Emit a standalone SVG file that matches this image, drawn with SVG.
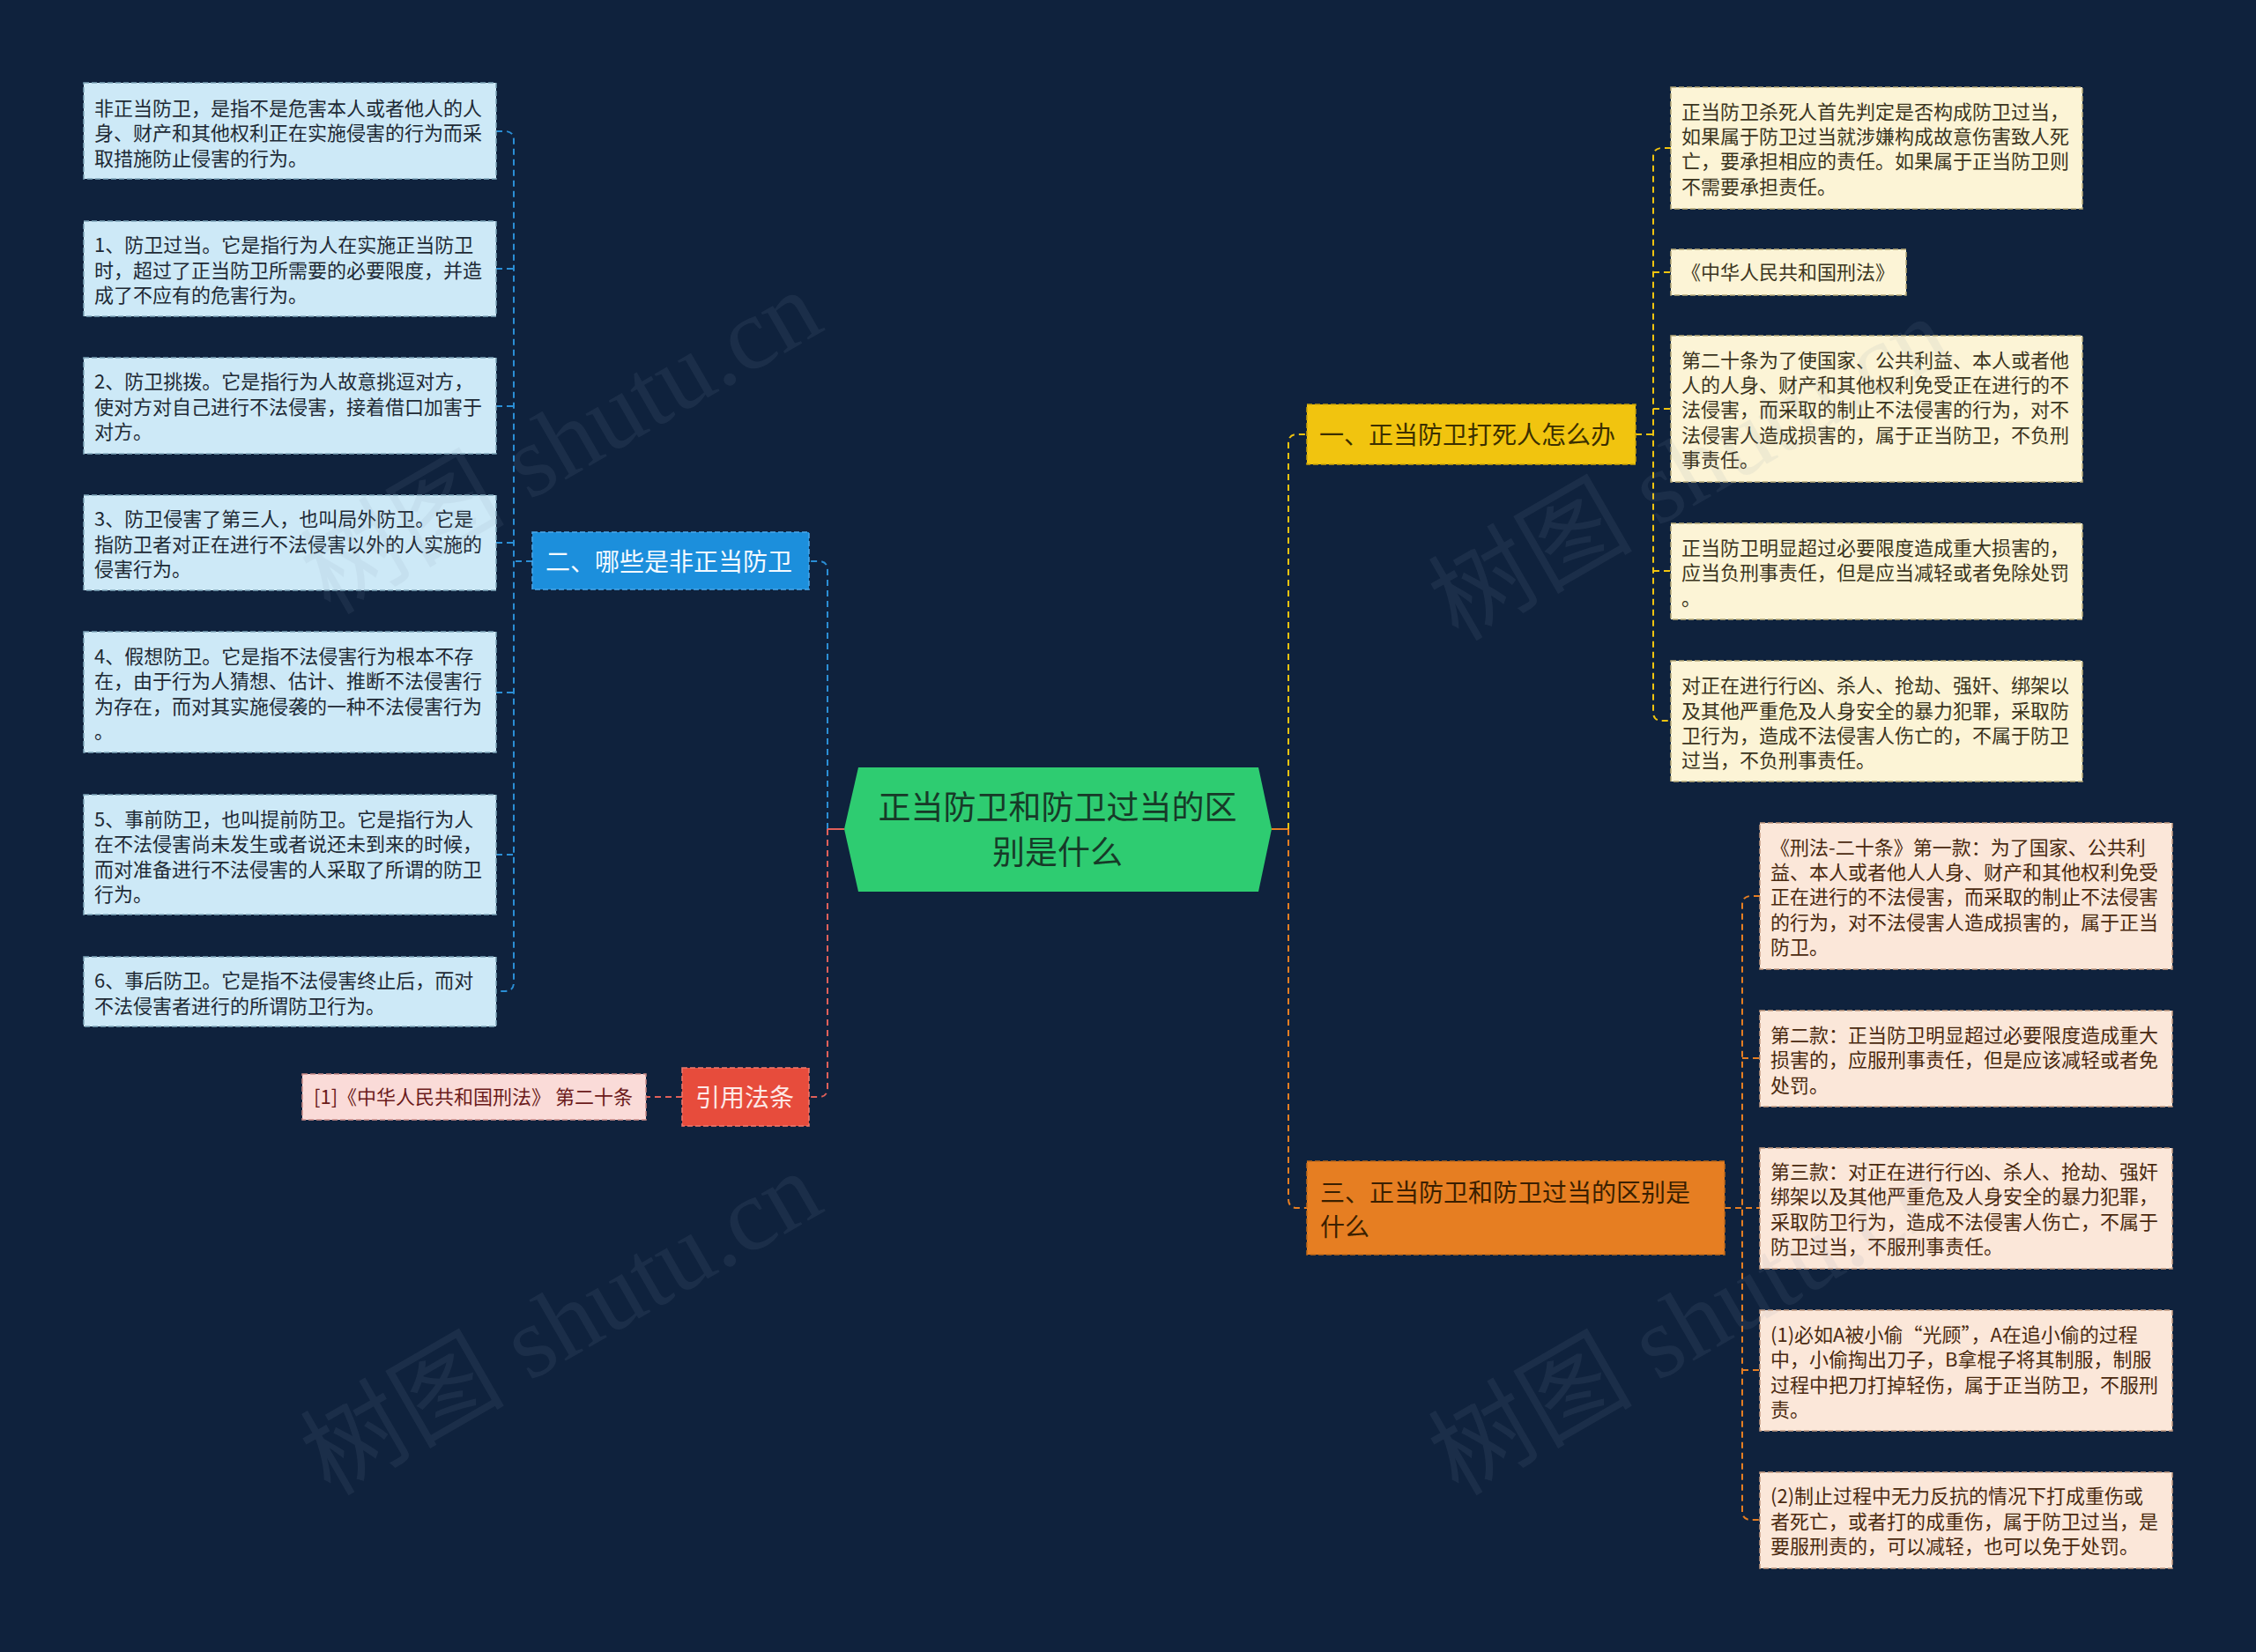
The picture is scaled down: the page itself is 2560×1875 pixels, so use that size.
<svg xmlns="http://www.w3.org/2000/svg" width="2560" height="1875" viewBox="0 0 2560 1875">
<style>
text{font-family:"Noto Sans CJK SC","Liberation Sans",sans-serif;dominant-baseline:central}
.t22{font-size:22px;transform:translate(0px,-2px)}
.lb{fill:#cde9f7;stroke:#7fa6bb;stroke-width:1.5;stroke-dasharray:6 3}
.lt{fill:#1e2a35}
.yb{fill:#fcf4d6;stroke:#b8aa78;stroke-width:1.5;stroke-dasharray:6 3}
.yt{fill:#3b3520}
.ob{fill:#fbe7d9;stroke:#c49a80;stroke-width:1.5;stroke-dasharray:6 3}
.ot{fill:#4a2a10}
.c{fill:none;stroke-width:2;stroke-dasharray:7 5}
.cb{stroke:#2b8fd6}.cr{stroke:#e0605a}.cy{stroke:#f1c40f}.co{stroke:#e67e22}
.wm{font-family:"Liberation Serif","Noto Sans CJK SC",serif;font-size:116px;fill:#8a9bb0;opacity:0.10}
</style>
<rect x="0" y="0" width="2560" height="1875" fill="#0f223d"/>

<g id="connectors">
<path class="c cb" d="M939,941 V647 Q939,637 929,637 H918"/>
<path class="c cr" d="M939,941 V1235 Q939,1245 929,1245 H918"/>
<path d="M958,941 H939" stroke="#e0605a" stroke-width="2" fill="none"/>
<path class="c cr" d="M774,1245 H733"/>
<path class="c cb" d="M604,637 H583"/>
<path class="c cb" d="M563,149 H573 Q583,149 583,159 V1115 Q583,1125 573,1125 H563"/>
<path class="c cb" d="M563,305 H583 M563,461 H583 M563,616 H583 M563,786 H583 M563,970 H583"/>
<path d="M1443,941 H1462" stroke="#e67e22" stroke-width="2" fill="none"/>
<path class="c cy" d="M1462,941 V503 Q1462,493 1472,493 H1483"/>
<path class="c co" d="M1462,941 V1361 Q1462,1371 1472,1371 H1483"/>
<path class="c cy" d="M1856,493 H1876"/>
<path class="c cy" d="M1896,168 H1886 Q1876,168 1876,178 V808 Q1876,818 1886,818 H1896"/>
<path class="c cy" d="M1876,309 H1896 M1876,464 H1896 M1876,648 H1896"/>
<path class="c co" d="M1957,1371 H1997"/>
<path class="c co" d="M1997,1017 H1987 Q1977,1017 1977,1027 V1715 Q1977,1725 1987,1725 H1997"/>
<path class="c co" d="M1977,1201 H1997 M1977,1555 H1997"/>
</g>

<g id="center">
<polygon points="974,871 1428,871 1443,941 1428,1012 974,1012 958,941" fill="#2ecc71"/>
<text x="1200" y="914" font-size="37" text-anchor="middle" fill="#173a28">正当防卫和防卫过当的区</text>
<text x="1200" y="965" font-size="37" text-anchor="middle" fill="#173a28">别是什么</text>
</g>

<g id="branch-2">
<rect x="604" y="604" width="314" height="65" fill="#1c8fdc" stroke="#4aa8ea" stroke-width="1.5" stroke-dasharray="6 3"/>
<text x="619" y="636" font-size="28" fill="#f4faff">二、哪些是非正当防卫</text>
</g>

<g id="branch-ref">
<rect x="774" y="1212" width="144" height="66" fill="#e74c3c" stroke="#f07a6e" stroke-width="1.5" stroke-dasharray="6 3"/>
<text x="789" y="1244" font-size="28" fill="#fde8e6">引用法条</text>
</g>

<g id="ref-1">
<rect x="343" y="1219" width="390" height="52" fill="#fadbd8" stroke="#c98a86" stroke-width="1.5" stroke-dasharray="6 3"/>
<text x="356" y="1245" class="t22" fill="#6b1b1b">[1]《中华人民共和国刑法》 第二十条</text>
</g>

<g id="branch-1">
<rect x="1483" y="459" width="373" height="68" fill="#f1c40f" stroke="#c9a20a" stroke-width="1.5" stroke-dasharray="6 3"/>
<text x="1497" y="492" font-size="28" fill="#3b2f00">一、正当防卫打死人怎么办</text>
</g>

<g id="branch-3">
<rect x="1483" y="1318" width="474" height="106" fill="#e67e22" stroke="#c0691a" stroke-width="1.5" stroke-dasharray="6 3"/>
<text x="1498" y="1352" font-size="28" fill="#3a1f00">三、正当防卫和防卫过当的区别是</text>
<text x="1498" y="1391" font-size="28" fill="#3a1f00">什么</text>
</g>

<g id="left-1">
<rect class="lb" x="95" y="94" width="468" height="109"/>
<text class="t22 lt" x="107" y="123">非正当防卫，是指不是危害本人或者他人的人</text>
<text class="t22 lt" x="107" y="151">身、财产和其他权利正在实施侵害的行为而采</text>
<text class="t22 lt" x="107" y="180">取措施防止侵害的行为。</text>
</g>
<g id="left-2">
<rect class="lb" x="95" y="251" width="468" height="108"/>
<text class="t22 lt" x="107" y="278">1、防卫过当。它是指行为人在实施正当防卫</text>
<text class="t22 lt" x="107" y="307">时，超过了正当防卫所需要的必要限度，并造</text>
<text class="t22 lt" x="107" y="335">成了不应有的危害行为。</text>
</g>
<g id="left-3">
<rect class="lb" x="95" y="406" width="468" height="109"/>
<text class="t22 lt" x="107" y="433">2、防卫挑拨。它是指行为人故意挑逗对方，</text>
<text class="t22 lt" x="107" y="462">使对方对自己进行不法侵害，接着借口加害于</text>
<text class="t22 lt" x="107" y="490">对方。</text>
</g>
<g id="left-4">
<rect class="lb" x="95" y="562" width="468" height="108"/>
<text class="t22 lt" x="107" y="589">3、防卫侵害了第三人，也叫局外防卫。它是</text>
<text class="t22 lt" x="107" y="618">指防卫者对正在进行不法侵害以外的人实施的</text>
<text class="t22 lt" x="107" y="646">侵害行为。</text>
</g>
<g id="left-5">
<rect class="lb" x="95" y="717" width="468" height="137"/>
<text class="t22 lt" x="107" y="745">4、假想防卫。它是指不法侵害行为根本不存</text>
<text class="t22 lt" x="107" y="773">在，由于行为人猜想、估计、推断不法侵害行</text>
<text class="t22 lt" x="107" y="802">为存在，而对其实施侵袭的一种不法侵害行为</text>
<text class="t22 lt" x="107" y="830">。</text>
</g>
<g id="left-6">
<rect class="lb" x="95" y="902" width="468" height="136"/>
<text class="t22 lt" x="107" y="930">5、事前防卫，也叫提前防卫。它是指行为人</text>
<text class="t22 lt" x="107" y="958">在不法侵害尚未发生或者说还未到来的时候，</text>
<text class="t22 lt" x="107" y="987">而对准备进行不法侵害的人采取了所谓的防卫</text>
<text class="t22 lt" x="107" y="1015">行为。</text>
</g>
<g id="left-7">
<rect class="lb" x="95" y="1086" width="468" height="79"/>
<text class="t22 lt" x="107" y="1113">6、事后防卫。它是指不法侵害终止后，而对</text>
<text class="t22 lt" x="107" y="1142">不法侵害者进行的所谓防卫行为。</text>
</g>

<g id="right1-1">
<rect class="yb" x="1896" y="99" width="467" height="138"/>
<text class="t22 yt" x="1908" y="127">正当防卫杀死人首先判定是否构成防卫过当，</text>
<text class="t22 yt" x="1908" y="155">如果属于防卫过当就涉嫌构成故意伤害致人死</text>
<text class="t22 yt" x="1908" y="183">亡，要承担相应的责任。如果属于正当防卫则</text>
<text class="t22 yt" x="1908" y="212">不需要承担责任。</text>
</g>
<g id="right1-2">
<rect class="yb" x="1896" y="283" width="267" height="52"/>
<text class="t22 yt" x="1908" y="309">《中华人民共和国刑法》</text>
</g>
<g id="right1-3">
<rect class="yb" x="1896" y="381" width="467" height="166"/>
<text class="t22 yt" x="1908" y="409">第二十条为了使国家、公共利益、本人或者他</text>
<text class="t22 yt" x="1908" y="437">人的人身、财产和其他权利免受正在进行的不</text>
<text class="t22 yt" x="1908" y="465">法侵害，而采取的制止不法侵害的行为，对不</text>
<text class="t22 yt" x="1908" y="494">法侵害人造成损害的，属于正当防卫，不负刑</text>
<text class="t22 yt" x="1908" y="522">事责任。</text>
</g>
<g id="right1-4">
<rect class="yb" x="1896" y="594" width="467" height="109"/>
<text class="t22 yt" x="1908" y="622">正当防卫明显超过必要限度造成重大损害的，</text>
<text class="t22 yt" x="1908" y="650">应当负刑事责任，但是应当减轻或者免除处罚</text>
<text class="t22 yt" x="1908" y="679">。</text>
</g>
<g id="right1-5">
<rect class="yb" x="1896" y="750" width="467" height="137"/>
<text class="t22 yt" x="1908" y="778">对正在进行行凶、杀人、抢劫、强奸、绑架以</text>
<text class="t22 yt" x="1908" y="807">及其他严重危及人身安全的暴力犯罪，采取防</text>
<text class="t22 yt" x="1908" y="835">卫行为，造成不法侵害人伤亡的，不属于防卫</text>
<text class="t22 yt" x="1908" y="863">过当，不负刑事责任。</text>
</g>

<g id="right3-1">
<rect class="ob" x="1997" y="934" width="468" height="166"/>
<text class="t22 ot" x="2009" y="962">《刑法-二十条》第一款：为了国家、公共利</text>
<text class="t22 ot" x="2009" y="990">益、本人或者他人人身、财产和其他权利免受</text>
<text class="t22 ot" x="2009" y="1018">正在进行的不法侵害，而采取的制止不法侵害</text>
<text class="t22 ot" x="2009" y="1047">的行为，对不法侵害人造成损害的，属于正当</text>
<text class="t22 ot" x="2009" y="1075">防卫。</text>
</g>
<g id="right3-2">
<rect class="ob" x="1997" y="1147" width="468" height="109"/>
<text class="t22 ot" x="2009" y="1175">第二款：正当防卫明显超过必要限度造成重大</text>
<text class="t22 ot" x="2009" y="1203">损害的，应服刑事责任，但是应该减轻或者免</text>
<text class="t22 ot" x="2009" y="1232">处罚。</text>
</g>
<g id="right3-3">
<rect class="ob" x="1997" y="1303" width="468" height="137"/>
<text class="t22 ot" x="2009" y="1330">第三款：对正在进行行凶、杀人、抢劫、强奸</text>
<text class="t22 ot" x="2009" y="1358">绑架以及其他严重危及人身安全的暴力犯罪，</text>
<text class="t22 ot" x="2009" y="1387">采取防卫行为，造成不法侵害人伤亡，不属于</text>
<text class="t22 ot" x="2009" y="1415">防卫过当，不服刑事责任。</text>
</g>
<g id="right3-4">
<rect class="ob" x="1997" y="1487" width="468" height="137"/>
<text class="t22 ot" x="2009" y="1515">(1)必如A被小偷“光顾”，A在追小偷的过程</text>
<text class="t22 ot" x="2009" y="1543">中，小偷掏出刀子，B拿棍子将其制服，制服</text>
<text class="t22 ot" x="2009" y="1572">过程中把刀打掉轻伤，属于正当防卫，不服刑</text>
<text class="t22 ot" x="2009" y="1600">责。</text>
</g>
<g id="right3-5">
<rect class="ob" x="1997" y="1671" width="468" height="109"/>
<text class="t22 ot" x="2009" y="1698">(2)制止过程中无力反抗的情况下打成重伤或</text>
<text class="t22 ot" x="2009" y="1727">者死亡，或者打的成重伤，属于防卫过当，是</text>
<text class="t22 ot" x="2009" y="1755">要服刑责的，可以减轻，也可以免于处罚。</text>
</g>

<g id="watermarks">
<text class="wm" transform="translate(355,665) rotate(-30)">树图 shutu.cn</text>
<text class="wm" transform="translate(355,1665) rotate(-30)">树图 shutu.cn</text>
<text class="wm" transform="translate(1635,695) rotate(-30)">树图 shutu.cn</text>
<text class="wm" transform="translate(1635,1665) rotate(-30)">树图 shutu.cn</text>
</g>
</svg>
